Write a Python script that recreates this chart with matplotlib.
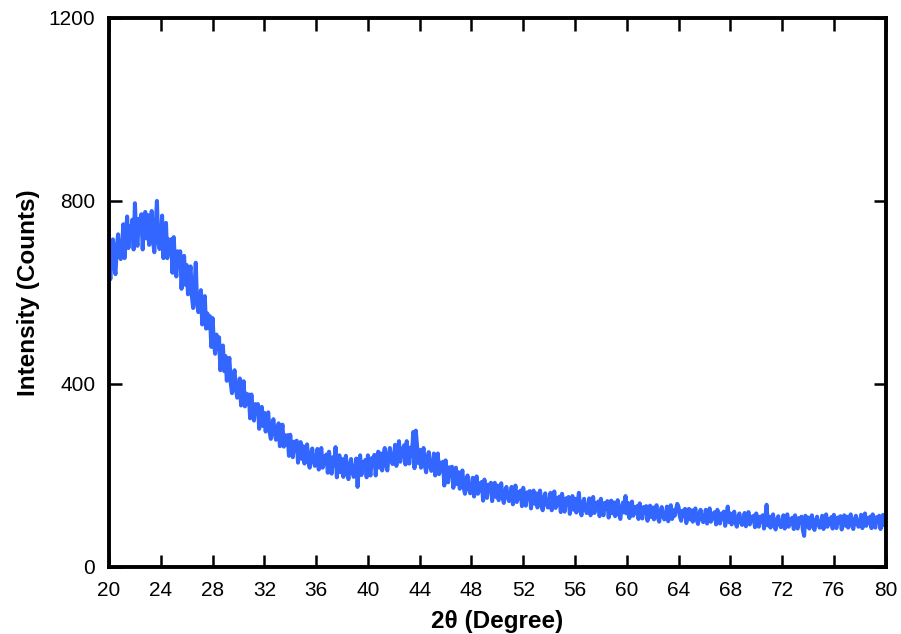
import numpy as np
import matplotlib.pyplot as plt

# XRD pattern, one value every 0.1 degree (20..80)
two_theta_start = 20
two_theta_end = 80
intensity = [
    687, 629, 684, 716, 657, 640, 699, 727, 686, 673,   # 20
    692, 749, 675, 723, 766, 697, 745, 721, 759, 694,   # 21
    795, 724, 702, 761, 734, 771, 694, 753, 776, 718,   # 22
    769, 704, 752, 778, 712, 688, 741, 800, 714, 695,   # 23
    707, 768, 675, 716, 752, 675, 716, 684, 716, 643,   # 24
    721, 662, 635, 690, 657, 690, 608, 663, 680, 617,   # 25
    660, 596, 637, 657, 592, 566, 610, 665, 578, 557,   # 26
    564, 605, 530, 563, 592, 521, 554, 523, 548, 481,   # 27
    544, 492, 466, 508, 478, 502, 430, 472, 484, 428,   # 28
    461, 407, 441, 457, 402, 380, 417, 430, 389, 370,   # 29
    377, 412, 353, 381, 406, 351, 379, 356, 377, 325,   # 30
    377, 338, 320, 356, 335, 356, 302, 338, 350, 308,   # 31
    337, 296, 323, 338, 296, 280, 311, 323, 292, 278,   # 32
    284, 314, 264, 289, 311, 263, 288, 268, 288, 243,   # 33
    289, 255, 240, 274, 255, 276, 228, 261, 273, 236,   # 34
    264, 226, 254, 268, 231, 217, 247, 259, 232, 221,   # 35
    228, 258, 213, 238, 260, 217, 242, 226, 246, 206,   # 36
    252, 219, 204, 240, 222, 262, 196, 230, 244, 207,   # 37
    236, 197, 227, 243, 205, 192, 222, 236, 208, 197,   # 38
    204, 237, 175, 221, 244, 201, 229, 214, 234, 196,   # 39
    244, 213, 200, 238, 222, 245, 200, 236, 252, 217,   # 40
    248, 211, 243, 260, 223, 211, 245, 260, 234, 225,   # 41
    234, 267, 221, 249, 275, 230, 259, 242, 266, 224,   # 42
    275, 241, 226, 261, 243, 295, 216, 298, 264, 227,   # 43
    256, 217, 246, 260, 221, 207, 238, 251, 222, 210,   # 44
    217, 248, 200, 226, 248, 203, 228, 210, 230, 178,   # 45
    233, 200, 185, 218, 200, 219, 173, 205, 217, 181,   # 46
    207, 171, 197, 211, 173, 160, 188, 200, 172, 161,   # 47
    167, 195, 154, 177, 198, 160, 183, 167, 186, 145,   # 48
    191, 162, 151, 180, 166, 184, 144, 173, 184, 153,   # 49
    178, 146, 171, 183, 151, 140, 165, 175, 153, 144,   # 50
    149, 175, 137, 158, 178, 142, 164, 150, 167, 133,   # 51
    173, 146, 134, 163, 149, 166, 128, 157, 167, 138,   # 52
    161, 130, 154, 167, 136, 124, 150, 161, 138, 130,   # 53
    136, 162, 124, 145, 165, 129, 151, 137, 154, 120,   # 54
    160, 133, 121, 150, 136, 153, 116, 144, 155, 125,   # 55
    149, 119, 141, 162, 124, 113, 138, 149, 127, 118,   # 56
    125, 150, 113, 134, 153, 118, 139, 127, 143, 111,   # 57
    149, 124, 113, 140, 127, 144, 108, 135, 145, 117,   # 58
    141, 111, 133, 146, 116, 105, 130, 141, 119, 155,   # 59
    117, 140, 107, 126, 143, 112, 131, 119, 133, 105,   # 60
    139, 116, 106, 131, 119, 133, 101, 126, 134, 109,   # 61
    130, 104, 125, 135, 108, 99, 122, 131, 111, 104,    # 62
    109, 132, 100, 118, 135, 105, 124, 112, 126, 138,   # 63
    131, 110, 101, 123, 112, 127, 96, 119, 127, 104,    # 64
    124, 99, 118, 128, 103, 94, 116, 125, 106, 98,      # 65
    104, 125, 95, 112, 128, 99, 117, 106, 120, 93,      # 66
    125, 104, 95, 117, 106, 121, 90, 113, 132, 98,      # 67
    117, 93, 111, 121, 97, 88, 108, 117, 99, 92,        # 68
    97, 118, 89, 105, 120, 93, 110, 100, 112, 87,       # 69
    117, 97, 88, 110, 99, 113, 84, 106, 136, 91,        # 70
    110, 86, 105, 115, 90, 82, 102, 111, 94, 87,        # 71
    92, 113, 84, 101, 115, 88, 105, 95, 108, 83,        # 72
    113, 93, 84, 107, 96, 110, 81, 68, 112, 89,         # 73
    108, 84, 103, 113, 89, 81, 101, 110, 93, 86,        # 74
    91, 112, 83, 100, 115, 88, 105, 95, 109, 84,        # 75
    114, 94, 85, 108, 97, 111, 82, 104, 113, 90,        # 76
    110, 86, 105, 115, 91, 83, 103, 112, 95, 88,        # 77
    93, 114, 85, 102, 117, 90, 107, 97, 110, 85,        # 78
    115, 95, 86, 109, 98, 112, 83, 105, 114, 91,        # 79
    100,                                                # 80
]
two_theta = np.linspace(two_theta_start, two_theta_end, len(intensity))

x_ticks = list(range(20, 81, 4))
y_ticks = [0, 400, 800, 1200]

plt.rcParams['font.family'] = ['Liberation Sans', 'DejaVu Sans']

fig = plt.figure(figsize=(9.01, 6.34), dpi=100)
ax = fig.add_axes([0.121, 0.1057, 0.862, 0.866])

ax.plot(two_theta, intensity, color='#3366FF', linewidth=2.9)

ax.set_xlim(20, 80)
ax.set_ylim(0, 1200)
ax.set_xticks(x_ticks)
ax.set_yticks(y_ticks)
ax.tick_params(direction='in', length=9, width=1.8, labelsize=15,
               top=True, right=True, pad=10)

for s in ax.spines.values():
    s.set_linewidth(2.8)

ax.set_xlabel('2θ (Degree)', fontsize=17.5, fontweight='bold')
ax.set_ylabel('Intensity (Counts)', fontsize=17.5, fontweight='bold')
ax.xaxis.set_label_coords(0.5, -0.078)
ax.yaxis.set_label_coords(-0.089, 0.5)

fig.savefig('out.png', dpi=100)
